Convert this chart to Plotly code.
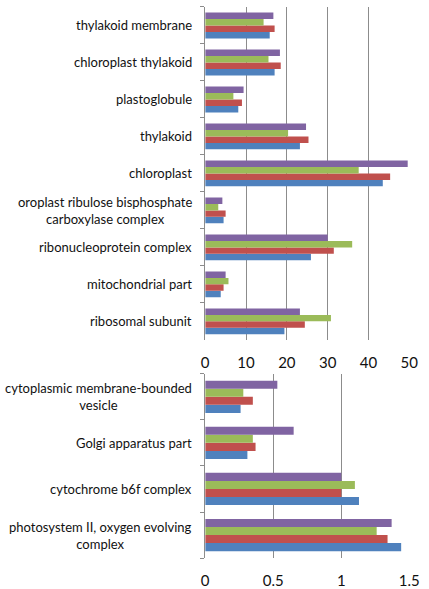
import plotly.graph_objects as go

# ---- data (top panel, listed top-to-bottom as in the chart) ----
top_categories = [
    "thylakoid membrane",
    "chloroplast thylakoid",
    "plastoglobule",
    "thylakoid",
    "chloroplast",
    "oroplast ribulose bisphosphate<br>carboxylase complex",
    "ribonucleoprotein complex",
    "mitochondrial part",
    "ribosomal subunit",
]
top_blue = [15.8, 17.0, 8.1, 23.2, 43.5, 4.5, 25.9, 3.8, 19.4]
top_red = [17.0, 18.5, 9.0, 25.3, 45.3, 5.0, 31.5, 4.5, 24.4]
top_green = [14.3, 15.5, 6.9, 20.3, 37.6, 3.2, 36.0, 5.7, 30.8]
top_purple = [16.7, 18.3, 9.4, 24.7, 49.6, 4.2, 30.0, 5.0, 23.2]
top_ticks = [0, 10, 20, 30, 40, 50]

# ---- data (bottom panel, listed top-to-bottom) ----
bottom_categories = [
    "cytoplasmic membrane-bounded<br>vesicle",
    "Golgi apparatus part",
    "cytochrome b6f complex",
    "photosystem II, oxygen evolving<br>complex",
]
bottom_blue = [0.26, 0.31, 1.13, 1.44]
bottom_red = [0.35, 0.37, 1.00, 1.34]
bottom_green = [0.28, 0.35, 1.10, 1.26]
bottom_purple = [0.53, 0.65, 1.00, 1.37]
bottom_ticks = [0, 0.5, 1, 1.5]

series_names = ["Series 1", "Series 2", "Series 3", "Series 4"]
colors = ["#4F81BD", "#C0504D", "#9BBB59", "#8064A2"]

FONT = "Lato, 'Open Sans', sans-serif"
TXT = "#111111"
GRID = "#8c8c8c"

fig = go.Figure()

top_series = [top_blue, top_red, top_green, top_purple]
bottom_series = [bottom_blue, bottom_red, bottom_green, bottom_purple]

for name, col, vals in zip(series_names, colors, top_series):
    fig.add_trace(go.Bar(y=top_categories, x=vals, orientation="h", name=name,
                         marker=dict(color=col, line=dict(width=0)),
                         xaxis="x", yaxis="y", showlegend=False))
for name, col, vals in zip(series_names, colors, bottom_series):
    fig.add_trace(go.Bar(y=bottom_categories, x=vals, orientation="h", name=name,
                         marker=dict(color=col, line=dict(width=0)),
                         xaxis="x2", yaxis="y2", showlegend=False))

W, H = 429, 589
x0, x1 = 208 / W, 419 / W
top_y = [1 - 341 / H, 1 - 7 / H]
bot_y = [1 - 560 / H, 1 - 375 / H]

xaxis_common = dict(showline=False, showgrid=True, gridcolor=GRID, gridwidth=1,
                    zeroline=False, ticks="", tickfont=dict(family=FONT, size=15, color=TXT),
                    ticklabelstandoff=12, ticklabeloverflow="allow", fixedrange=True)
yaxis_common = dict(showline=True, linecolor=GRID, linewidth=1, ticks="outside",
                    tickson="boundaries", ticklen=4, tickcolor=GRID, showticklabels=False,
                    showgrid=False, zeroline=False, categoryorder="array", fixedrange=True)

annotations = []
for cat in top_categories:
    annotations.append(dict(x=0, xref="x domain", y=cat, yref="y", text=cat,
                            xanchor="right", yanchor="middle", align="center",
                            xshift=-11, showarrow=False,
                            font=dict(family=FONT, size=13, color=TXT)))
for cat in bottom_categories:
    annotations.append(dict(x=0, xref="x2 domain", y=cat, yref="y2", text=cat,
                            xanchor="right", yanchor="middle", align="center",
                            xshift=-11, showarrow=False,
                            font=dict(family=FONT, size=13, color=TXT)))

fig.update_layout(
    width=W, height=H,
    margin=dict(l=0, r=0, t=0, b=0),
    paper_bgcolor="white", plot_bgcolor="white",
    barmode="group", bargap=0.3, bargroupgap=0,
    font=dict(family=FONT, color=TXT),
    hovermode=False,
    xaxis=dict(domain=[x0, x1], anchor="y", range=[0, 50], tickvals=top_ticks,
               **xaxis_common),
    yaxis=dict(domain=top_y, anchor="x", categoryarray=top_categories[::-1],
               **yaxis_common),
    xaxis2=dict(domain=[x0, x1], anchor="y2", range=[0, 1.5], tickvals=bottom_ticks,
                ticktext=["0", "0.5", "1", "1.5"], **xaxis_common),
    yaxis2=dict(domain=bot_y, anchor="x2", categoryarray=bottom_categories[::-1],
                **yaxis_common),
    annotations=annotations,
)

fig.write_html(
    "out.html",
    config={"displayModeBar": False, "staticPlot": False},
    post_script="document.body.style.margin='0';document.body.style.overflow='hidden';",
)
